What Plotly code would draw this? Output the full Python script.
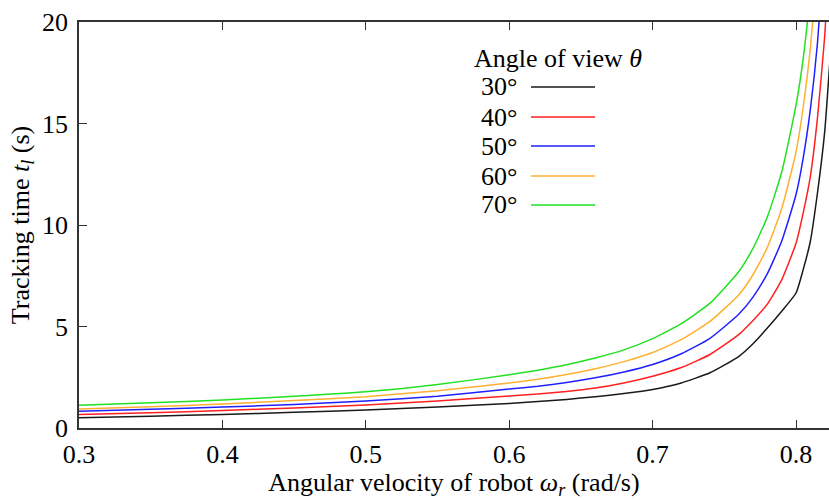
import plotly.graph_objects as go

# Angular velocity of the robot (rad/s)
omega = [0.30, 0.35, 0.40, 0.45, 0.50, 0.55, 0.60, 0.62, 0.64, 0.66, 0.68, 0.70,
         0.72, 0.74, 0.76, 0.77, 0.78, 0.79, 0.80, 0.805, 0.81, 0.815, 0.82, 0.825]

# Tracking time (s) for each angle of view
t_30 = [0.51, 0.58, 0.67, 0.77, 0.89, 1.03, 1.21, 1.30, 1.41, 1.54, 1.70, 1.90,
        2.22, 2.72, 3.52, 4.15, 4.92, 5.75, 6.65, 7.80, 9.20, 11.6, 14.6, 19.5]
t_40 = [0.66, 0.75, 0.86, 0.99, 1.13, 1.33, 1.58, 1.68, 1.80, 1.97, 2.22, 2.55,
        2.98, 3.62, 4.60, 5.30, 6.10, 7.30, 9.10, 10.6, 12.4, 15.3, 19.3, 25.0]
t_50 = [0.83, 0.92, 1.03, 1.16, 1.33, 1.56, 1.92, 2.06, 2.24, 2.47, 2.76, 3.13,
        3.66, 4.42, 5.60, 6.45, 7.60, 9.20, 11.5, 13.3, 15.7, 19.0, 24.0, 30.0]
t_60 = [0.94, 1.05, 1.18, 1.35, 1.54, 1.84, 2.22, 2.40, 2.63, 2.92, 3.27, 3.72,
        4.35, 5.25, 6.55, 7.55, 8.90, 10.8, 13.6, 15.8, 18.7, 23.0, 29.0, 36.0]
t_70 = [1.12, 1.24, 1.38, 1.56, 1.78, 2.14, 2.62, 2.85, 3.12, 3.45, 3.85, 4.40,
        5.14, 6.15, 7.70, 8.85, 10.4, 12.6, 15.9, 18.2, 21.5, 26.0, 32.0, 40.0]

angles = ["30°", "40°", "50°", "60°", "70°"]
colors = ["#1a1a1a", "#ff2020", "#2020ff", "#ffb030", "#22e022"]
series = [t_30, t_40, t_50, t_60, t_70]

FONT = "'Liberation Serif', 'Times New Roman', serif"
TICK_SIZE = 26
TITLE_SIZE = 26
LEG_SIZE = 26
W, H = 829, 500
L, R, T, B = 79, 0, 22, 72
pw, ph = W - L - R, H - T - B


def px_to_paper(px, py):
    return (px - L) / pw, (H - B - py) / ph


fig = go.Figure()
for name, col, ys in zip(angles, colors, series):
    fig.add_trace(go.Scatter(
        x=omega, y=ys, mode="lines", name=name,
        line=dict(color=col, width=1.5, shape="spline", smoothing=0.5),
        showlegend=False, cliponaxis=True,
    ))

# Legend block: title, labels on the left, line samples on the right
annotations = []
shapes = []
tx, ty = px_to_paper(472, 58)
annotations.append(dict(
    x=tx, y=ty, xref="paper", yref="paper", xanchor="left", yanchor="middle",
    text="Angle of view <i>θ</i>", showarrow=False,
    font=dict(family=FONT, size=LEG_SIZE, color="black"),
))
row_y = [87, 117, 146, 176, 205]
for name, col, py in zip(angles, colors, row_y):
    lx, ly = px_to_paper(499, py)
    annotations.append(dict(
        x=lx, y=ly, xref="paper", yref="paper", xanchor="center", yanchor="middle",
        text=name, showarrow=False,
        font=dict(family=FONT, size=LEG_SIZE, color="black"),
    ))
    x0, y0 = px_to_paper(531, py)
    x1, _ = px_to_paper(595, py)
    shapes.append(dict(
        type="line", xref="paper", yref="paper", x0=x0, x1=x1, y0=y0, y1=y0,
        line=dict(color=col, width=1.5),
    ))

axis_common = dict(
    showgrid=False, zeroline=False, showline=True, linecolor="#333333",
    linewidth=1.5, ticks="inside", ticklen=8, tickwidth=1.2, tickcolor="#333333",
    tickfont=dict(family=FONT, size=TICK_SIZE, color="black"),
)

fig.update_layout(
    width=W, height=H,
    margin=dict(l=L, r=R, t=T, b=B, autoexpand=False),
    paper_bgcolor="white", plot_bgcolor="white",
    font=dict(family=FONT, size=TICK_SIZE, color="black"),
    xaxis=dict(
        range=[0.3, 0.823], dtick=0.1, tick0=0.3, tickformat=".1f",
        mirror="ticks", ticklabelstandoff=2,
        title=dict(text="Angular velocity of robot <i>ω<sub>r</sub></i> (rad/s)",
                   font=dict(family=FONT, size=TITLE_SIZE), standoff=8),
        **axis_common,
    ),
    yaxis=dict(
        range=[0, 20], dtick=5, tick0=0, mirror=False, ticklabelstandoff=4,
        title=dict(text="Tracking time <i>t<sub>l</sub></i> (s)",
                   font=dict(family=FONT, size=TITLE_SIZE), standoff=5),
        **axis_common,
    ),
    annotations=annotations,
    shapes=shapes,
)

fig.write_html("out.html")
